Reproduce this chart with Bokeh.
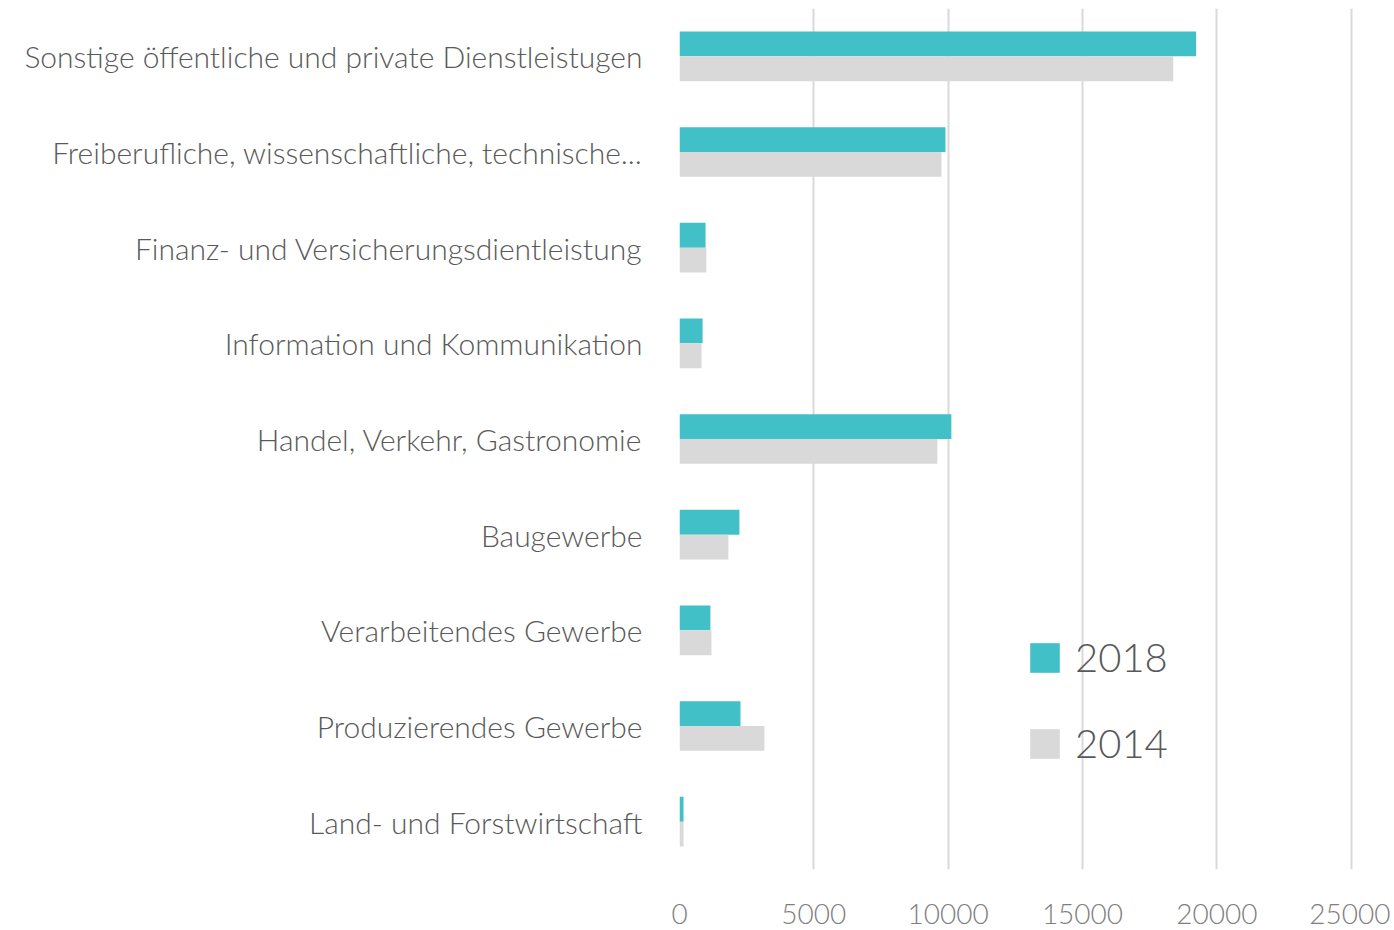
from bokeh.plotting import figure
from bokeh.models import FactorRange, Range1d, ColumnDataSource, Legend, LegendItem, FixedTicker
from bokeh.transform import dodge
from bokeh.embed import file_html
from bokeh.resources import INLINE

# Data (bottom -> top)
categories = [
    "Land- und Forstwirtschaft",
    "Produzierendes Gewerbe",
    "Verarbeitendes Gewerbe",
    "Baugewerbe",
    "Handel, Verkehr, Gastronomie",
    "Information und Kommunikation",
    "Finanz- und Versicherungsdientleistung",
    "Freiberufliche, wissenschaftliche, technische...",
    "Sonstige öffentliche und private Dienstleistugen",
]
values_2018 = [150, 2270, 1150, 2230, 10120, 860, 970, 9900, 19230]
values_2014 = [150, 3160, 1190, 1820, 9600, 820, 1000, 9750, 18380]
x_ticks = [0, 5000, 10000, 15000, 20000, 25000]

FONT = "'Lato Light', Lato"

src = ColumnDataSource(dict(cat=categories, v2018=values_2018, v2014=values_2014))

p = figure(
    width=1390, height=928,
    y_range=FactorRange(factors=categories),
    x_range=Range1d(0, 25200),
    output_backend="svg", toolbar_location=None,
    min_border_left=679, min_border_right=34, min_border_top=8, min_border_bottom=59,
)
p.outline_line_color = None
p.background_fill_color = "white"

r18 = p.hbar(y=dodge("cat", 0.13, range=p.y_range), right="v2018", left=0, height=0.26,
             source=src, fill_color="#42C0C7", line_color=None)
r14 = p.hbar(y=dodge("cat", -0.13, range=p.y_range), right="v2014", left=0, height=0.26,
             source=src, fill_color="#D9D9D9", line_color=None)

p.ygrid.grid_line_color = None
p.xgrid.grid_line_color = "#D9D9D9"
p.xgrid.grid_line_width = 2
p.xaxis.ticker = FixedTicker(ticks=x_ticks)

for ax in (p.xaxis[0], p.yaxis[0]):
    ax.axis_line_color = None
    ax.major_tick_line_color = None
    ax.minor_tick_line_color = None
    ax.major_label_text_font = FONT

p.xaxis.major_label_text_font_size = "28px"
p.xaxis.major_label_text_color = "#7f7f7f"
p.xaxis.major_label_standoff = 28

p.yaxis.major_label_text_font_size = "30px"
p.yaxis.major_label_text_color = "#595959"
p.yaxis.major_label_standoff = 31

legend = Legend(
    items=[LegendItem(label="2018", renderers=[r18]), LegendItem(label="2014", renderers=[r14])],
    location=(347, 102),
    padding=0, margin=0, spacing=38,
    glyph_width=37, glyph_height=37, label_height=30,
    label_standoff=12,
    label_text_font=FONT, label_text_font_size="40px", label_text_color="#595959",
    border_line_color=None, background_fill_alpha=0,
)
p.add_layout(legend, "center")

open("out.html", "w").write(file_html(p, INLINE))
